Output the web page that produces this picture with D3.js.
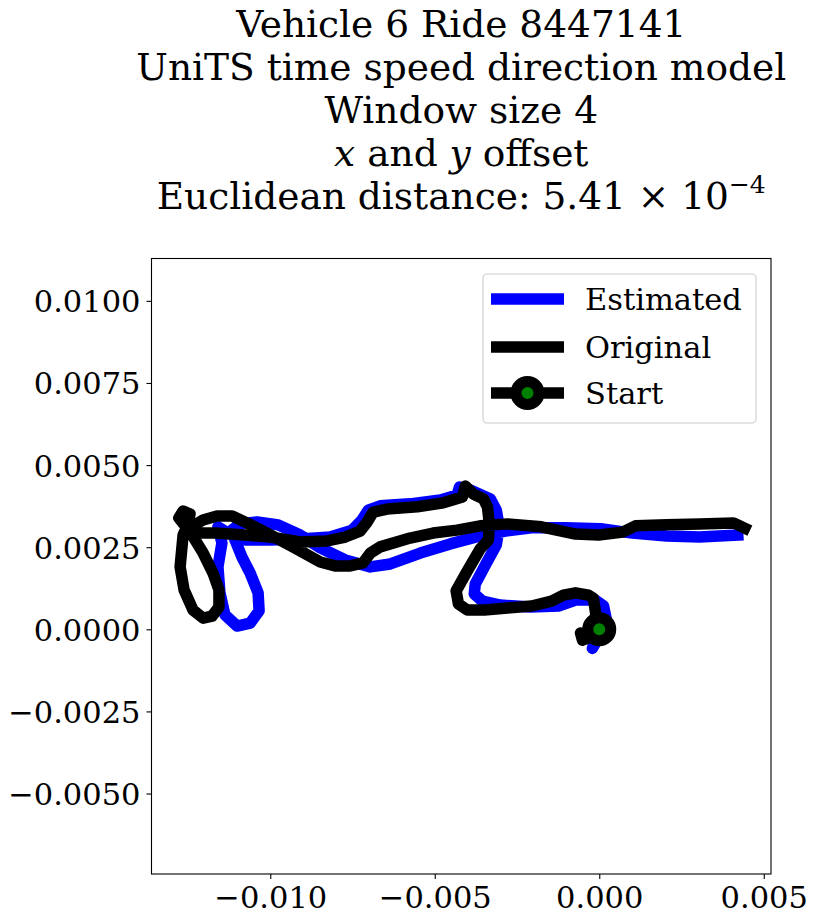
<!DOCTYPE html>
<html>
<head>
<meta charset="utf-8">
<script src="https://cdn.jsdelivr.net/npm/d3@7"></script>
<style>
  body { margin: 0; background: #fff; }
  text { font-family: "DejaVu Serif", serif; fill: #000; }
</style>
</head>
<body>
<svg id="chart" width="815" height="921"></svg>
<script>
// Title lines (line 4 and 5 get extra formatting below)
var titleLines = [
  "Vehicle 6 Ride 8447141",
  "UniTS time speed direction model",
  "Window size 4"
];

// Original trajectory (x and y offset from the start)
var origX = [0, -0.00033, -0.00057, -0.00051, -0.00024, -0.00009, -0.00012, -0.00018, -0.00033, -0.00072,
  -0.00109, -0.00145, -0.00206, -0.00279, -0.00349, -0.00401, -0.00428, -0.00435, -0.00401, -0.00362,
  -0.00337, -0.00334, -0.00340, -0.00352, -0.00383, -0.00407, -0.00416, -0.00474, -0.00553, -0.00645,
  -0.00687, -0.00705, -0.00727, -0.00772, -0.00827, -0.00909, -0.01001, -0.01077, -0.01168, -0.01235,
  -0.01256, -0.01278, -0.01265, -0.01244, -0.01250, -0.01265,
  -0.01274, -0.01262, -0.01235, -0.01204, -0.01177, -0.01156, -0.01156, -0.01174, -0.01204, -0.01232,
  -0.01244, -0.01204, -0.01162, -0.01116, -0.01071, -0.01010, -0.00931, -0.00848, -0.00803, -0.00757,
  -0.00718, -0.00696, -0.00666, -0.00575, -0.00505, -0.00432, -0.00362, -0.00279, -0.00176, -0.00072,
  -0.00002, 0.00071, 0.00110, 0.00205, 0.00305, 0.00408, 0.00442];
var origY = [0, -0.00020, -0.00011, -0.00033, -0.00023, 0.00028, 0.00056, 0.00095, 0.00104, 0.00111,
  0.00104, 0.00086, 0.00071, 0.00065, 0.00059, 0.00059, 0.00077, 0.00117, 0.00178, 0.00245,
  0.00272, 0.00321, 0.00373, 0.00397, 0.00412, 0.00436, 0.00403, 0.00385, 0.00373, 0.00366,
  0.00357, 0.00327, 0.00299, 0.00281, 0.00269, 0.00266, 0.00281, 0.00287, 0.00293, 0.00293,
  0.00312, 0.00339, 0.00360, 0.00351, 0.00321, 0.00287,
  0.00190, 0.00120, 0.00059, 0.00034, 0.00040, 0.00068, 0.00120, 0.00171, 0.00232, 0.00278,
  0.00309, 0.00333, 0.00345, 0.00345, 0.00324, 0.00293, 0.00251, 0.00205, 0.00193, 0.00193,
  0.00202, 0.00232, 0.00251, 0.00278, 0.00293, 0.00302, 0.00315, 0.00321, 0.00312, 0.00290,
  0.00287, 0.00296, 0.00315, 0.00318, 0.00321, 0.00324, 0.00308];

// Estimated trajectory
var estX = [0, -0.00021, 0.00001, 0.00022, 0.00013, -0.00012, -0.00072, -0.00124, -0.00209, -0.00301,
  -0.00355, -0.00380, -0.00377, -0.00343, -0.00313, -0.00304, -0.00313, -0.00331, -0.00392, -0.00425,
  -0.00432, -0.00483, -0.00575, -0.00666, -0.00702, -0.00721, -0.00751, -0.00818, -0.00909, -0.01001,
  -0.01077, -0.01128, -0.01159, -0.01147, -0.01159, -0.01153, -0.01138, -0.01101, -0.01061, -0.01034,
  -0.01037, -0.01061, -0.01086, -0.01107, -0.01116, -0.01092, -0.01040, -0.00976, -0.00909, -0.00848,
  -0.00772, -0.00696, -0.00635, -0.00544, -0.00453, -0.00362, -0.00285, -0.00206, -0.00103, 0.00004,
  0.00101, 0.00205, 0.00305, 0.00421];
var estY = [0, -0.00058, -0.00020, 0.00028, 0.00071, 0.00089, 0.00089, 0.00071, 0.00068, 0.00074,
  0.00086, 0.00108, 0.00138, 0.00202, 0.00257, 0.00312, 0.00363, 0.00397, 0.00424, 0.00433,
  0.00409, 0.00394, 0.00382, 0.00376, 0.00363, 0.00333, 0.00302, 0.00281, 0.00275, 0.00272,
  0.00272, 0.00293, 0.00312, 0.00263, 0.00190, 0.00111, 0.00044, 0.00010, 0.00019, 0.00056,
  0.00111, 0.00171, 0.00220, 0.00272, 0.00302, 0.00321, 0.00327, 0.00318, 0.00287, 0.00248,
  0.00211, 0.00190, 0.00199, 0.00232, 0.00260, 0.00284, 0.00299, 0.00309, 0.00309, 0.00306,
  0.00293, 0.00284, 0.00281, 0.00287];

var startX = [0];
var startY = [0];

var xTicks = [-0.010, -0.005, 0.000, 0.005];
var yTicks = [-0.0050, -0.0025, 0.0000, 0.0025, 0.0050, 0.0075, 0.0100];
var legendLabels = ["Estimated", "Original", "Start"];

// Plot area
var plotL = 151.5, plotR = 771, plotT = 258.5, plotB = 874;
var svg = d3.select("#chart");

var x = d3.scaleLinear().domain([-0.01361, 0.00522]).range([plotL, plotR]);
var y = d3.scaleLinear().domain([-0.00745, 0.01129]).range([plotB, plotT]);

svg.append("clipPath").attr("id", "plotclip")
  .append("rect")
  .attr("x", plotL).attr("y", plotT)
  .attr("width", plotR - plotL).attr("height", plotB - plotT);

var line = d3.line()
  .x(d => x(d[0]))
  .y(d => y(d[1]));

var estData = d3.zip(estX, estY);
var origData = d3.zip(origX, origY);

var plot = svg.append("g").attr("clip-path", "url(#plotclip)");

plot.append("path")
  .datum(estData)
  .attr("d", line)
  .attr("fill", "none")
  .attr("stroke", "#0000ff")
  .attr("stroke-width", 11.5)
  .attr("stroke-linejoin", "round")
  .attr("stroke-linecap", "square");

plot.append("path")
  .datum(origData)
  .attr("d", line)
  .attr("fill", "none")
  .attr("stroke", "#000")
  .attr("stroke-width", 11.5)
  .attr("stroke-linejoin", "round")
  .attr("stroke-linecap", "square");

// Start marker
plot.selectAll(".start")
  .data(d3.zip(startX, startY))
  .enter()
  .append("circle")
  .attr("cx", d => x(d[0]))
  .attr("cy", d => y(d[1]))
  .attr("r", 11.5)
  .attr("fill", "#008000")
  .attr("stroke", "#000")
  .attr("stroke-width", 11);

// Axes
var xAxis = d3.axisBottom(x).tickValues(xTicks).tickSize(5).tickPadding(6).tickFormat(d3.format(".3f"));
var yAxis = d3.axisLeft(y).tickValues(yTicks).tickSize(5).tickPadding(6).tickFormat(d3.format(".4f"));

var gx = svg.append("g").attr("transform", "translate(0," + plotB + ")").call(xAxis);
var gy = svg.append("g").attr("transform", "translate(" + plotL + ",0)").call(yAxis);

[gx, gy].forEach(g => {
  g.select(".domain").remove();
  g.selectAll(".tick line").attr("stroke", "#000").attr("stroke-width", 1.1);
  g.selectAll(".tick text")
    .attr("font-family", "DejaVu Serif")
    .attr("font-size", 30.5)
    .attr("fill", "#000");
});
gx.selectAll(".tick text").attr("dy", "0.75em");
gy.selectAll(".tick text").attr("dy", "0.36em");

// Frame
svg.append("rect")
  .attr("x", plotL).attr("y", plotT)
  .attr("width", plotR - plotL).attr("height", plotB - plotT)
  .attr("fill", "none")
  .attr("stroke", "#000")
  .attr("stroke-width", 1.1);

// Title
var title = svg.append("g").attr("font-size", 37.5);
var titleX = (plotL + plotR) / 2;
var baselines = [37, 80, 123, 166, 209];

titleLines.forEach((t, i) => {
  title.append("text")
    .attr("x", titleX).attr("y", baselines[i])
    .attr("text-anchor", "middle")
    .text(t);
});

var t4 = title.append("text")
  .attr("x", titleX).attr("y", baselines[3])
  .attr("text-anchor", "middle");
t4.append("tspan").attr("font-style", "italic").text("x");
t4.append("tspan").text(" and ");
t4.append("tspan").attr("font-style", "italic").text("y");
t4.append("tspan").text(" offset");

var t5 = title.append("text")
  .attr("x", titleX).attr("y", baselines[4])
  .attr("text-anchor", "middle");
t5.append("tspan").text("Euclidean distance: 5.41 \u00d7 10");
t5.append("tspan").attr("font-size", 25).attr("dy", -16).text("\u22124");

// Legend
var legend = svg.append("g");
legend.append("rect")
  .attr("x", 483).attr("y", 274)
  .attr("width", 273).attr("height", 149)
  .attr("rx", 4)
  .attr("fill", "#fff")
  .attr("fill-opacity", 0.8)
  .attr("stroke", "#cccccc")
  .attr("stroke-width", 1.1);

var legendColors = ["#0000ff", "#000", "#000"];
var rowY = [299, 347, 393];

legendLabels.forEach((label, i) => {
  legend.append("line")
    .attr("x1", 491).attr("x2", 564)
    .attr("y1", rowY[i]).attr("y2", rowY[i])
    .attr("stroke", legendColors[i])
    .attr("stroke-width", 11.5);
  if (label === "Start") {
    legend.append("circle")
      .attr("cx", 527.5).attr("cy", rowY[i])
      .attr("r", 11.5)
      .attr("fill", "#008000")
      .attr("stroke", "#000")
      .attr("stroke-width", 11);
  }
  legend.append("text")
    .attr("x", 585).attr("y", rowY[i])
    .attr("dy", "0.36em")
    .attr("font-size", 30.5)
    .text(label);
});
</script>
</body>
</html>
